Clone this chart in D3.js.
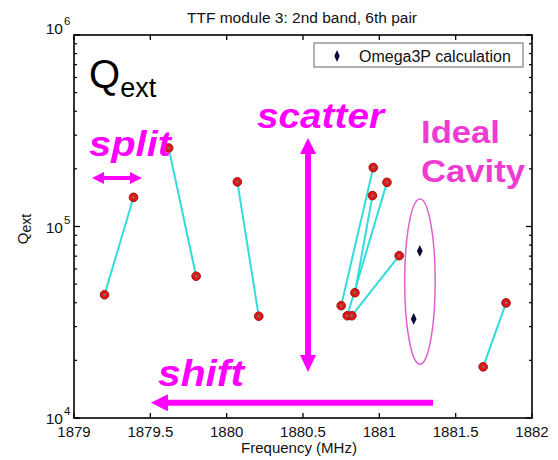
<!DOCTYPE html>
<html>
<head>
<meta charset="utf-8">
<script src="https://cdn.jsdelivr.net/npm/d3@7"></script>
<style>
  html, body { margin: 0; padding: 0; background: #fff; }
  svg { display: block; font-family: Arial, "Liberation Sans", sans-serif; }
</style>
</head>
<body>
<svg id="chart" width="558" height="460"></svg>
<script>
// ---- data ----
const title = "TTF module 3: 2nd band, 6th pair";
const xTicks = [1879, 1879.5, 1880, 1880.5, 1881, 1881.5, 1882];
const yTicks = [1e4, 1e5, 1e6];
const yTickExp = ["4", "5", "6"];
// measured mode pairs: [freq1, Q1, freq2, Q2]
const pairFreqA = [1879.20, 1879.62, 1880.07, 1880.96, 1881.05, 1880.955, 1881.13, 1881.68];
const pairQA    = [44000, 257000, 171000, 203000, 170000, 145000, 70400, 18500];
const pairFreqB = [1879.39, 1879.80, 1880.21, 1880.75, 1880.79, 1880.84, 1880.82, 1881.83];
const pairQB    = [142000, 55000, 34000, 38600, 34200, 45100, 34200, 39900];
// Omega3P calculation (ideal cavity)
const omegaFreq = [1881.265, 1881.225];
const omegaQ    = [74500, 32900];
const legendLabel = "Omega3P calculation";

// ---- layout ----
const svg = d3.select("#chart");
const L = 74, T = 35, R = 532, B = 418;
const x = d3.scaleLinear().domain([1879, 1882]).range([L, R]);
const y = d3.scaleLog().domain([1e4, 1e6]).range([B, T]);
const magenta = "#ff00ff", pink = "#ee3cd2";

// title
svg.append("text").attr("x", 302).attr("y", 23).attr("text-anchor", "middle")
  .attr("font-size", 15.5).attr("fill", "#111").text(title);

// axes box
const g = svg.append("g");
xTicks.forEach(t => {
  g.append("line").attr("x1", x(t)).attr("x2", x(t)).attr("y1", B).attr("y2", B - 5).attr("stroke", "#000").attr("stroke-width", 1.3);
  g.append("line").attr("x1", x(t)).attr("x2", x(t)).attr("y1", T).attr("y2", T + 5).attr("stroke", "#000").attr("stroke-width", 1.3);
  g.append("text").attr("x", x(t)).attr("y", 437).attr("text-anchor", "middle")
    .attr("font-size", 15).attr("fill", "#111").text(t);
});
const minor = [];
for (let e = 4; e < 6; e++) for (let m = 2; m <= 9; m++) minor.push(m * Math.pow(10, e));
minor.forEach(v => {
  g.append("line").attr("x1", L).attr("x2", L + 3).attr("y1", y(v)).attr("y2", y(v)).attr("stroke", "#000").attr("stroke-width", 1.2);
  g.append("line").attr("x1", R).attr("x2", R - 3).attr("y1", y(v)).attr("y2", y(v)).attr("stroke", "#000").attr("stroke-width", 1.2);
});
yTicks.forEach((v, i) => {
  g.append("line").attr("x1", L).attr("x2", L + 6).attr("y1", y(v)).attr("y2", y(v)).attr("stroke", "#000").attr("stroke-width", 1.3);
  g.append("line").attr("x1", R).attr("x2", R - 6).attr("y1", y(v)).attr("y2", y(v)).attr("stroke", "#000").attr("stroke-width", 1.3);
  const base = i === yTicks.length - 1 ? y(v) - 1 : y(v) + 6;
  g.append("text").attr("x", 63).attr("y", base).attr("text-anchor", "end")
    .attr("font-size", 15.5).attr("fill", "#111").text("10");
  g.append("text").attr("x", 64).attr("y", base - 9).attr("font-size", 11.5).attr("fill", "#111").text(yTickExp[i]);
});
g.append("rect").attr("x", L).attr("y", T).attr("width", R - L).attr("height", B - T)
  .attr("fill", "none").attr("stroke", "#000").attr("stroke-width", 1.6);

// axis labels
svg.append("text").attr("x", 299).attr("y", 453).attr("text-anchor", "middle")
  .attr("font-size", 15).attr("fill", "#111").text("Frequency (MHz)");
const yl = svg.append("text").attr("transform", "translate(28,229) rotate(-90)")
  .attr("text-anchor", "middle").attr("font-size", 15).attr("fill", "#111");
yl.append("tspan").text("Q");
yl.append("tspan").attr("font-size", 14).attr("dy", 3).text("ext");

// legend
svg.append("rect").attr("x", 314).attr("y", 43).attr("width", 209).attr("height", 24)
  .attr("fill", "#fff").attr("stroke", "#666").attr("stroke-width", 1);
svg.append("path").attr("d", d3.symbol(d3.symbolDiamond, 40)()).attr("transform", "translate(337,56) scale(0.8,1)").attr("fill", "#0a0a3a");
svg.append("text").attr("x", 359).attr("y", 61.5).attr("font-size", 16).attr("fill", "#111").text(legendLabel);

// pair lines
const pairs = pairFreqA.map((f, i) => ({ f1: f, q1: pairQA[i], f2: pairFreqB[i], q2: pairQB[i] }));
svg.append("g").selectAll("line").data(pairs).join("line")
  .attr("x1", d => x(d.f1)).attr("y1", d => y(d.q1))
  .attr("x2", d => x(d.f2)).attr("y2", d => y(d.q2))
  .attr("stroke", "#33dcdc").attr("stroke-width", 2);
const pts = pairs.flatMap(d => [{ f: d.f1, q: d.q1 }, { f: d.f2, q: d.q2 }]);
svg.append("g").selectAll("circle").data(pts).join("circle")
  .attr("cx", d => x(d.f)).attr("cy", d => y(d.q)).attr("r", 4.3)
  .attr("fill", "#e01818").attr("stroke", "#a01010").attr("stroke-width", 1);
svg.append("g").selectAll("circle").data(pts).join("circle")
  .attr("cx", d => x(d.f)).attr("cy", d => y(d.q)).attr("r", 1.2).attr("fill", "#777");

// omega3P diamonds
svg.append("g").selectAll("path").data(omegaFreq.map((f, i) => ({ f, q: omegaQ[i] }))).join("path")
  .attr("d", d3.symbol(d3.symbolDiamond, 40)())
  .attr("transform", d => `translate(${x(d.f)},${y(d.q)}) scale(0.85,1)`)
  .attr("fill", "#0a0a3a");

// ellipse around ideal cavity
const ecx = x(1881.266), ecTop = y(139000), ecBot = y(19100);
svg.append("ellipse").attr("cx", ecx).attr("cy", (ecTop + ecBot) / 2)
  .attr("rx", x(1881.1) - x(1881.0)).attr("ry", (ecBot - ecTop) / 2)
  .attr("fill", "none").attr("stroke", "#e060d0").attr("stroke-width", 1.5);

// arrows
function arrowHead(px, py, angle, len, wid, col) {
  const ca = Math.cos(angle), sa = Math.sin(angle);
  const bx = px - ca * len, by = py - sa * len;
  svg.append("path").attr("d", `M${px},${py}L${bx - sa * wid / 2},${by + ca * wid / 2}L${bx + sa * wid / 2},${by - ca * wid / 2}Z`).attr("fill", col);
}
const sy = y(179000), sx1 = x(1879.118), sx2 = x(1879.445);
svg.append("line").attr("x1", sx1 + 8).attr("x2", sx2 - 8).attr("y1", sy).attr("y2", sy).attr("stroke", magenta).attr("stroke-width", 4);
arrowHead(sx1, sy, Math.PI, 12, 12, magenta);
arrowHead(sx2, sy, 0, 12, 12, magenta);
const vx = x(1880.533), vy1 = y(290000), vy2 = y(17400);
svg.append("line").attr("x1", vx).attr("x2", vx).attr("y1", vy1 + 12).attr("y2", vy2 - 12).attr("stroke", magenta).attr("stroke-width", 6);
arrowHead(vx, vy1, -Math.PI / 2, 16, 16, magenta);
arrowHead(vx, vy2, Math.PI / 2, 17, 16, magenta);
const hy = y(12000), hx1 = x(1881.352), hx2 = x(1879.504);
svg.append("line").attr("x1", hx1).attr("x2", hx2 + 14).attr("y1", hy).attr("y2", hy).attr("stroke", magenta).attr("stroke-width", 6);
arrowHead(hx2, hy, Math.PI, 17, 17, magenta);

// annotation texts
const qt = svg.append("text").attr("x", 89).attr("y", 88).attr("fill", "#000");
qt.append("tspan").attr("font-size", 40).text("Q");
qt.append("tspan").attr("font-size", 27).attr("dy", 9).text("ext");
function bigText(txt, x0, y0, size, len, col, italic) {
  svg.append("text").attr("x", x0).attr("y", y0).attr("font-size", size)
    .attr("font-weight", "bold").attr("font-style", italic ? "italic" : "normal")
    .attr("fill", col).attr("textLength", len).attr("lengthAdjust", "spacingAndGlyphs").text(txt);
}
bigText("split", 89, 156, 35, 82, magenta, true);
bigText("scatter", 257, 128, 35, 127, magenta, true);
bigText("shift", 158, 386, 36, 86, magenta, true);
bigText("Ideal", 421, 143, 32, 79, pink, false);
bigText("Cavity", 421, 182, 32, 104, pink, false);
</script>
</body>
</html>
